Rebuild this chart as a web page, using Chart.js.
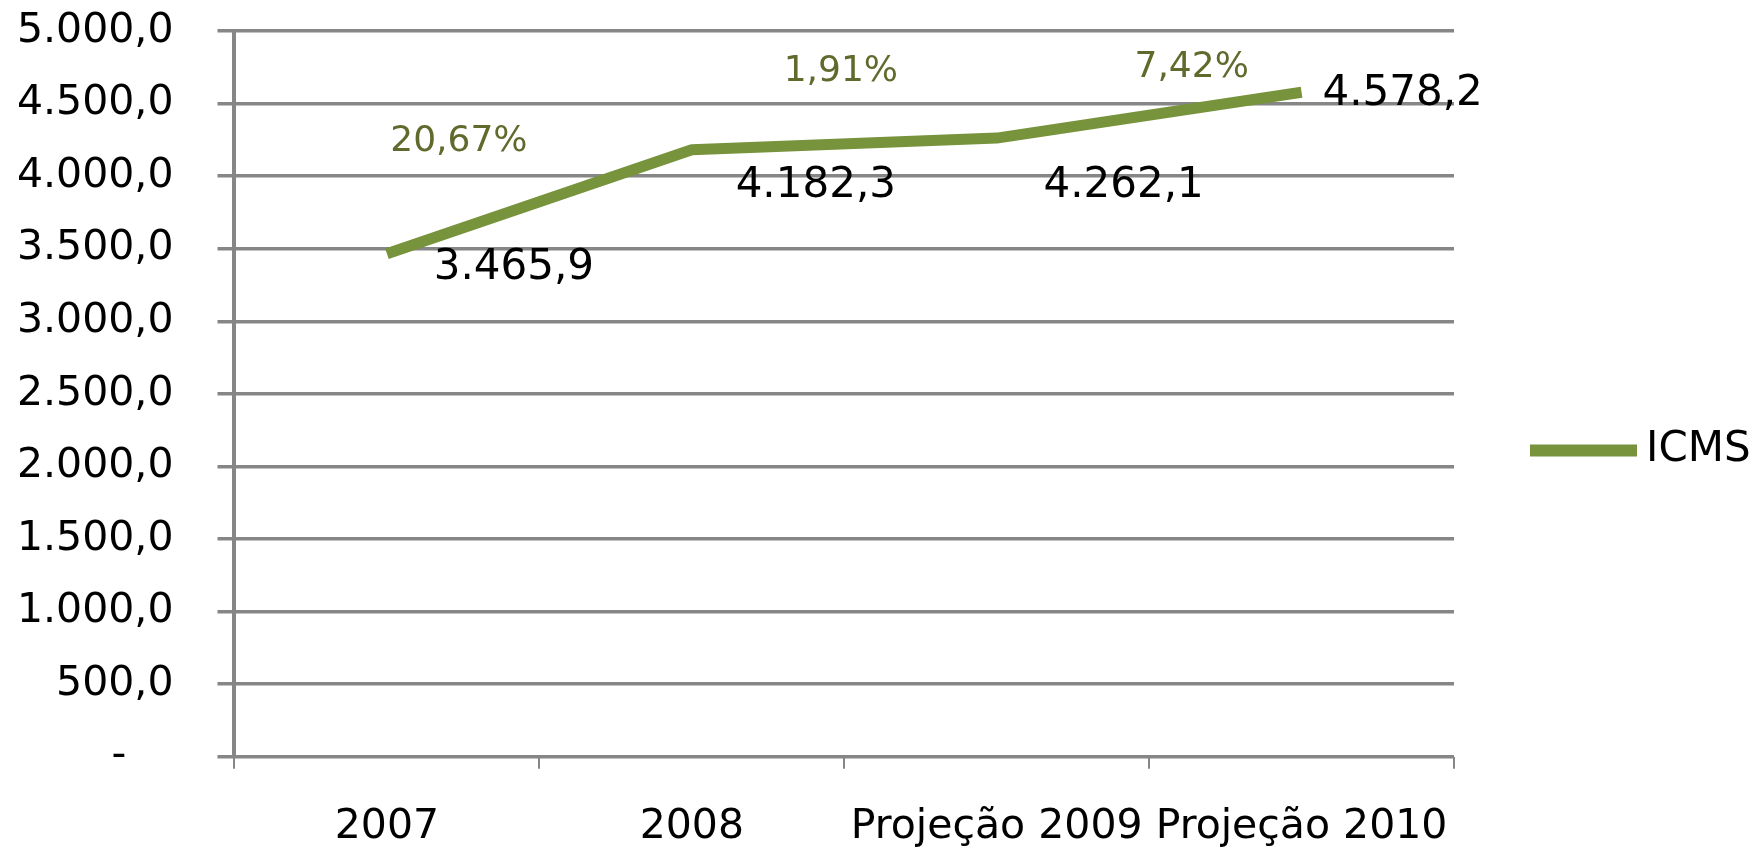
<!DOCTYPE html>
<html>
<head>
<meta charset="utf-8">
<script src="https://cdn.jsdelivr.net/npm/chart.js@4.4.0/dist/chart.umd.min.js"></script>
<style>
  html, body { margin: 0; padding: 0; background: #fff; overflow: hidden; }
  #chart { display: block; }
</style>
</head>
<body>
<canvas id="chart" width="1751" height="860"></canvas>
<script>
var years = ['2007', '2008', 'Projeção 2009', 'Projeção 2010'];
var icms = [3465.9, 4182.3, 4262.1, 4578.2];
var growth = [20.67, 1.91, 7.42];
var yMin = 0, yMax = 5000, yStep = 500;

// label placement, pixels from the point they belong to
var valueOffsets = [[127, 14], [124, 36], [127, 48], [101, 2]];
var growthOffsets = [[72, -112], [149, -78], [195, -70]];

var green = '#77933C';
var gridGray = '#868686';
var font = '"DejaVu Sans"';

function fmtNum(v, d) {
    var s = v.toFixed(d).split('.');
    s[0] = s[0].replace(/\B(?=(\d{3})+(?!\d))/g, '.');
    return s.join(',');
}

var labelPlugin = {
    id: 'labels',
    afterDatasetsDraw: function (chart) {
        var ctx = chart.ctx;
        var meta = chart.getDatasetMeta(0);
        var area = chart.chartArea;
        ctx.save();
        ctx.textAlign = 'center';
        ctx.textBaseline = 'middle';
        ctx.font = '42px ' + font;
        ctx.fillStyle = '#000';
        meta.data.forEach(function (pt, i) {
            ctx.fillText(fmtNum(icms[i], 1), pt.x + valueOffsets[i][0], pt.y + valueOffsets[i][1]);
        });
        ctx.font = '36px ' + font;
        ctx.fillStyle = '#5F6A2C';
        growth.forEach(function (g, i) {
            var pt = meta.data[i];
            ctx.fillText(fmtNum(g, 2) + '%', pt.x + growthOffsets[i][0], pt.y + growthOffsets[i][1]);
        });

        // legend on the right
        var ly = (area.top + chart.height) / 2 + 5;
        var lx = area.right + 76;
        ctx.strokeStyle = green;
        ctx.lineWidth = 12;
        ctx.beginPath();
        ctx.moveTo(lx, ly);
        ctx.lineTo(lx + 107, ly);
        ctx.stroke();
        ctx.textAlign = 'left';
        ctx.fillStyle = '#000';
        ctx.font = '42px ' + font;
        ctx.fillText(chart.data.datasets[0].label, lx + 116, ly);
        ctx.restore();
    }
};

var ctx = document.getElementById('chart').getContext('2d');
var chart = new Chart(ctx, {
    type: 'line',
    data: {
        labels: years,
        datasets: [{
            label: 'ICMS',
            data: icms,
            borderColor: green,
            backgroundColor: green,
            borderWidth: 11,
            borderJoinStyle: 'round',
            pointRadius: 0,
            fill: false,
            tension: 0
        }]
    },
    options: {
        responsive: false,
        animation: false,
        layout: {
            padding: { top: 31, right: 297, bottom: -26, left: -27 }
        },
        plugins: {
            legend: { display: false },
            tooltip: { enabled: false }
        },
        scales: {
            x: {
                offset: true,
                grid: {
                    offset: true,
                    drawOnChartArea: false,
                    drawTicks: true,
                    tickLength: 12,
                    color: gridGray,
                    lineWidth: 2
                },
                border: { display: false },
                ticks: {
                    color: '#000',
                    font: { family: 'DejaVu Sans', size: 41 },
                    padding: 34,
                    maxRotation: 0,
                    autoSkip: false
                }
            },
            y: {
                min: yMin,
                max: yMax,
                // the wide label gap should not push the plot down
                afterFit: function (scale) {
                    scale.paddingTop = 0;
                    scale.paddingBottom = 0;
                },
                grid: {
                    color: gridGray,
                    lineWidth: 3.5,
                    tickLength: 17
                },
                border: { display: true, color: gridGray, width: 4 },
                ticks: {
                    stepSize: yStep,
                    color: '#000',
                    font: { family: 'DejaVu Sans', size: 41 },
                    padding: 44,
                    callback: function (v) {
                        return v === 0 ? '-   \u2009' : fmtNum(v, 1);
                    }
                }
            }
        }
    },
    plugins: [labelPlugin]
});
</script>
</body>
</html>
